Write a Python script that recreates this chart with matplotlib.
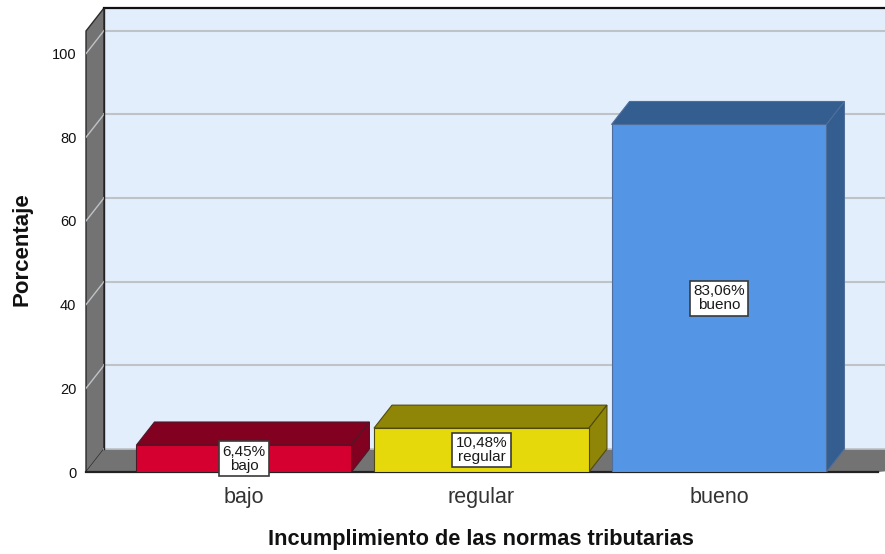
#!/usr/bin/env python3
"""Pseudo-3D bar chart: Incumplimiento de las normas tributarias."""
import matplotlib
matplotlib.use("Agg")
import matplotlib.pyplot as plt
from matplotlib.patches import Polygon

plt.rcParams["font.family"] = ["Liberation Sans", "DejaVu Sans"]

categories = ["bajo", "regular", "bueno"]
values = [6.45, 10.48, 83.06]
value_labels = ["6,45%", "10,48%", "83,06%"]
y_ticks = [0, 20, 40, 60, 80, 100]

FRONT = ["#d60030", "#e5d90c", "#5595e5"]
DARK = ["#820020", "#8f8506", "#345d90"]
EDGES = ["#4a1a28", "#4f4a10", "#4f6f9a"]
WALL = "#737373"
BACK = "#e2eefb"
GRID = "#bfc3c7"
EDGE = "#2b2b2b"

W, H = 885, 554
BAR_W = 0.905
DX, DY = 0.0758, 5.5  # depth offset of the 3D box in data units
X0, X1 = -0.665, 2.699
Y1 = 110.9

fig = plt.figure(figsize=(W / 100, H / 100), dpi=100, facecolor="white")
ax = fig.add_axes([86 / W, (H - 472) / H, 1 - 86 / W, (472 - 8) / H])
ax.set_xlim(X0, X1)
ax.set_ylim(0, Y1)
ax.set_facecolor("white")
for spine in ax.spines.values():
    spine.set_visible(False)


def poly(pts, fc, ec=None, lw=0.0, z=1, clip=True):
    p = Polygon(pts, closed=True, facecolor=fc, edgecolor=ec if ec else fc,
                linewidth=lw, zorder=z, clip_on=clip, joinstyle="miter")
    ax.add_patch(p)


# back wall, left wall, floor
poly([(X0 + DX, DY), (X1 + 1, DY), (X1 + 1, Y1), (X0 + DX, Y1)], BACK, z=1)
poly([(X0, 0), (X0 + DX, DY), (X0 + DX, Y1), (X0, Y1 - DY)], WALL, EDGE, 1.0, z=2, clip=False)
poly([(X0, 0), (X0 + DX, DY), (X1 + 1, DY), (2.67, 0)], WALL, z=2)

# gridlines on both walls
for v in y_ticks[1:]:
    ax.plot([X0 + DX, X1], [v + DY, v + DY], color=GRID, lw=1.5, zorder=3)
    ax.plot([X0, X0 + DX], [v, v + DY], color=GRID, lw=1.0, zorder=3)
ax.plot([X0 + DX, X1], [Y1, Y1], color="#111111", lw=1.6, zorder=4, clip_on=False)
ax.plot([X0 + DX, X0 + DX], [DY, Y1], color="#222222", lw=1.0, zorder=4)
ax.plot([X0 + DX, X1], [DY, DY], color=GRID, lw=1.2, zorder=3)
ax.plot([X0, 2.67], [0, 0], color="#222222", lw=1.6, zorder=4, clip_on=False)

# bars
for i, v in enumerate(values):
    l, r = i - BAR_W / 2, i + BAR_W / 2
    poly([(l, v), (l + DX, v + DY), (r + DX, v + DY), (r, v)], DARK[i], EDGES[i], 0.8, z=5)
    poly([(r, 0), (r + DX, DY), (r + DX, v + DY), (r, v)], DARK[i], EDGES[i], 0.8, z=5)
    ax.bar(i, v, width=BAR_W, color=FRONT[i], edgecolor=EDGES[i], linewidth=0.8, zorder=6)
    ax.text(i, v / 2, f"{value_labels[i]}\n{categories[i]}", ha="center", va="center",
            fontsize=11, linespacing=1.0, color="#1a1a1a", zorder=8, clip_on=False,
            bbox=dict(boxstyle="square,pad=0.22", facecolor="white", edgecolor="#3a3a3a", linewidth=1.2))

ax.set_xticks(range(len(categories)))
ax.set_xticklabels(categories, fontsize=15.5, color="#333333")
ax.set_yticks(y_ticks)
ax.set_yticklabels([str(v) for v in y_ticks], fontsize=10.5, color="#111111")
ax.tick_params(axis="both", length=0)
ax.tick_params(axis="x", pad=11)
ax.tick_params(axis="y", pad=7)

fig.text(481 / W, 1 - 539 / H, "Incumplimiento de las normas tributarias",
         ha="center", va="center", fontsize=15.7, fontweight="bold", color="#111111")
fig.text(22 / W, 1 - 249 / H, "Porcentaje", rotation=90, ha="center", va="center",
         fontsize=16, fontweight="bold", color="#111111")

fig.savefig("out.png", dpi=100, facecolor="white")
